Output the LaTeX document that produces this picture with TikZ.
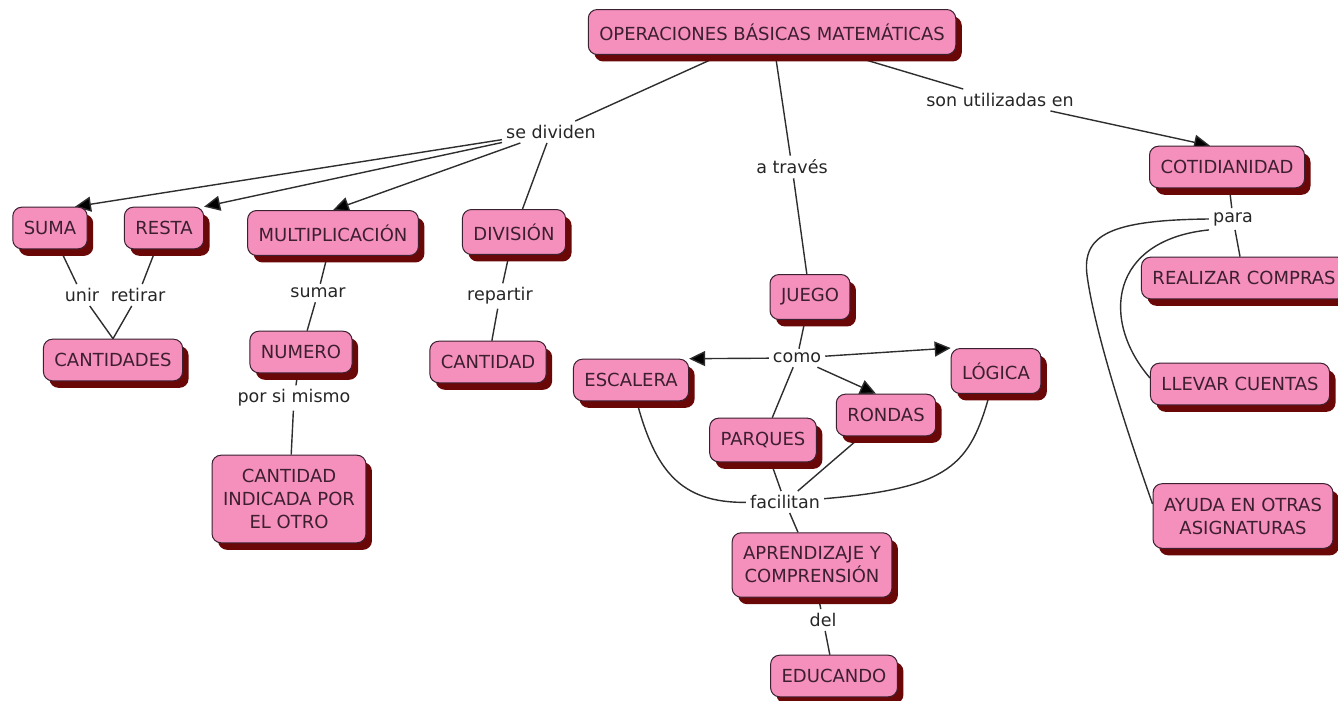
\documentclass[tikz,border=0pt]{standalone}
\usepackage{fontspec}
\setmainfont{DejaVu Sans}
\usetikzlibrary{shadows,arrows.meta,backgrounds}
\definecolor{cpink}{HTML}{F590BC}
\definecolor{cshadow}{HTML}{6A0808}
\definecolor{cborder}{HTML}{3A2030}
\definecolor{ctext}{HTML}{3D1F30}
\definecolor{cline}{HTML}{2E2E2E}

\begin{document}
\begin{tikzpicture}[x=1pt,y=-1pt,
  concept/.style={draw=cborder, line width=1pt, fill=cpink, rounded corners=9pt,
    text=ctext, align=center, font=\fontsize{18}{23}\selectfont,
    inner xsep=11pt, inner ysep=14pt, minimum height=41pt,
    drop shadow={shadow xshift=6pt, shadow yshift=-7pt, fill=cshadow, opacity=1}},
  link/.style={text=black!85, font=\fontsize{17.5}{20}\selectfont, inner sep=4pt},
  conn/.style={draw=cline, line width=1.4pt},
  arr/.style={conn, -{Triangle[length=16pt,width=15pt,fill=black]}}]
  \useasboundingbox (0,0) rectangle (1338,701);
  % concepts
  \node[concept] (oper)        at (772,32)  {OPERACIONES BÁSICAS MATEMÁTICAS};
  \node[concept] (cotid)       at (1227,167) {COTIDIANIDAD};
  \node[concept] (suma)        at (50,228)  {SUMA};
  \node[concept] (resta)       at (164,228) {RESTA};
  \node[concept] (multi)       at (333,233) {MULTIPLICACIÓN};
  \node[concept] (division)    at (514,232) {DIVISIÓN};
  \node[concept] (cantidades)  at (113,360) {CANTIDADES};
  \node[concept] (numero)      at (301,352) {NUMERO};
  \node[concept] (cantidad)    at (488,362) {CANTIDAD};
  \node[concept] (indicada)    at (289,499) {CANTIDAD\\INDICADA POR\\EL OTRO};
  \node[concept] (juego)       at (810,297) {JUEGO};
  \node[concept] (escalera)    at (631,380) {ESCALERA};
  \node[concept] (logica)      at (996,371) {LÓGICA};
  \node[concept] (rondas)      at (886,415) {RONDAS};
  \node[concept] (parques)     at (763,440) {PARQUES};
  \node[concept] (aprendizaje) at (812,565) {APRENDIZAJE Y\\COMPRENSIÓN};
  \node[concept] (educando)    at (834,676) {EDUCANDO};
  \node[concept] (compras)     at (1244,278) {REALIZAR COMPRAS};
  \node[concept] (cuentas)     at (1240,384) {LLEVAR CUENTAS};
  \node[concept] (ayuda)       at (1243,516) {AYUDA EN OTRAS\\ASIGNATURAS};
  % linking words
  \node[link] (sedividen)  at (551,132)  {se dividen};
  \node[link] (traves)     at (792,167)  {a través};
  \node[link] (utilizadas) at (1000,100) {son utilizadas en};
  \node[link] (unir)       at (82,295)   {unir};
  \node[link] (retirar)    at (138,295)  {retirar};
  \node[link] (sumar)      at (318,293)  {sumar};
  \node[link] (repartir)   at (500,296)  {repartir};
  \node[link] (mismo)      at (294,398)  {por si mismo};
  \node[link] (como)       at (797,358)  {como};
  \node[link] (facilitan)  at (785,502)  {facilitan};
  \node[link] (del)        at (823,620)  {del};
  \node[link] (para)       at (1233,219) {para};
  \coordinate (bend) at (1087,275);
  \begin{scope}[on background layer]
    % top branches
    \draw[conn] (oper) -- (sedividen);
    \draw[conn] (oper) -- (traves);
    \draw[conn] (oper) -- (utilizadas);
    \draw[arr]  (sedividen) -- ([xshift=25pt]suma.north);
    \draw[arr]  (sedividen) -- (resta.north east);
    \draw[arr]  (sedividen) -- (multi.north);
    \draw[conn] (sedividen) -- (division);
    \draw[conn] (traves) -- (juego);
    \draw[arr]  (utilizadas) -- ([xshift=-17pt]cotid.north);
    % operations
    \draw[conn] (suma) -- (unir);
    \draw[conn] (unir) -- (cantidades.north);
    \draw[conn] (resta) -- (retirar);
    \draw[conn] (retirar) -- (cantidades.north);
    \draw[conn] (multi) -- (sumar);
    \draw[conn] (sumar) -- (numero);
    \draw[conn] (numero) -- (mismo);
    \draw[conn] (mismo) -- (indicada);
    \draw[conn] (division) -- (repartir);
    \draw[conn] (repartir) -- (cantidad);
    % games
    \draw[conn] (juego) -- (como);
    \draw[arr]  (como) -- (escalera.north east);
    \draw[arr]  (como) -- (logica.north west);
    \draw[arr]  (como) -- ([xshift=-10pt]rondas.north);
    \draw[conn] (como) -- (parques);
    \draw[conn] (escalera) .. controls (655,470) and (680,503) .. (facilitan);
    \draw[conn] (parques) -- (facilitan);
    \draw[conn] (rondas) -- (facilitan);
    \draw[conn] (logica) .. controls (970,465) and (950,488) .. (facilitan);
    \draw[conn] (facilitan) -- (aprendizaje);
    \draw[conn] (aprendizaje) -- (del);
    \draw[conn] (del) -- (educando);
    % daily use
    \draw[conn] (cotid) -- (para);
    \draw[conn] (para) -- (compras);
    \draw[conn] (para.south west) .. controls (1110,240) and (1100,320) .. ([yshift=6pt]cuentas.west);
    \draw[conn] (para.west) .. controls (1110,220) and (1082,235) .. (bend)
                .. controls (1095,335) and (1130,440) .. ([yshift=12pt]ayuda.west);
  \end{scope}
\end{tikzpicture}
\end{document}
